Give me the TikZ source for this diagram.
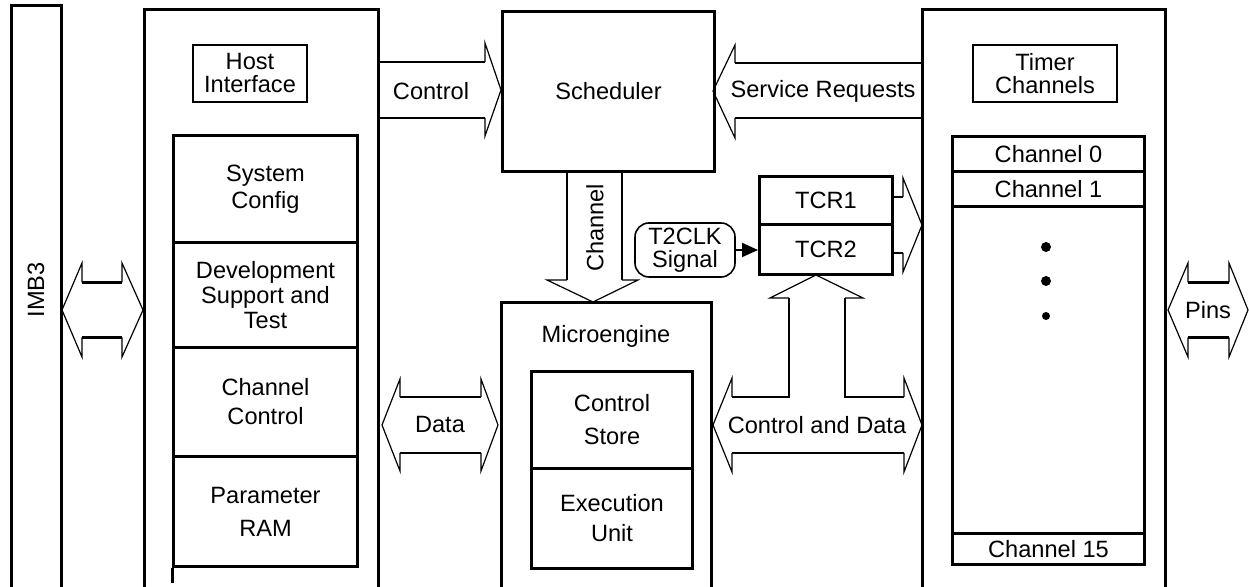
\documentclass[tikz,border=0pt]{standalone}
\usepackage{fontspec}
\setmainfont{Liberation Sans}
\usetikzlibrary{arrows.meta,calc}
\newcommand\dharrow[7]{%
  \draw[shaft] (#2,#5-#6) -- (#3,#5-#6) (#2,#5+#6) -- (#3,#5+#6);
  \draw[head] (#2,#5-#6) -- (#2,#5-#7) -- (#1,#5) -- (#2,#5+#7) -- (#2,#5+#6);
  \draw[head] (#3,#5-#6) -- (#3,#5-#7) -- (#4,#5) -- (#3,#5+#7) -- (#3,#5+#6);
}
\begin{document}
\begin{tikzpicture}[x=0.5pt,y=-0.5pt,
  font=\fontsize{11.8}{13.5}\selectfont,
  thickln/.style={line width=1.5pt},
  shaft/.style={line width=1.4pt},
  head/.style={line width=0.6pt, line join=miter},
  box/.style={draw, line width=1.5pt, inner sep=0pt, align=center, anchor=north west},
  lbl/.style={inner sep=0pt, align=center},
  bs/.style={font=\fontsize{11.8}{#1}\selectfont},
]
\useasboundingbox (0,0) rectangle (1249,587);

% IMB3 bus
\draw[thickln] (11,590) -- (11,6) -- (61,6) -- (61,590);
\node[lbl, rotate=90] (imb) at (36,290) {IMB3};

% Host side
\draw[thickln] (144,590) -- (144,10) -- (378,10) -- (378,590);
\node[box, line width=1pt, minimum width=57pt, minimum height=28.5pt, bs=11.5pt] (hif) at (192,44) {Host\\Interface};
\node[box, minimum width=92pt, minimum height=53.5pt, bs=13.5pt] (sc) at (172,134) {System\\Config};
\node[box, minimum width=92pt, minimum height=52.5pt, bs=12.5pt] (dev) at (172,241) {Development\\Support and\\Test};
\node[box, minimum width=92pt, minimum height=54.5pt, bs=14.5pt] (cc) at (172,346) {Channel\\Control};
\node[box, minimum width=92pt, minimum height=55pt, bs=16.5pt] (pram) at (172,455) {Parameter\\RAM};
\draw[thickln] (pram.south west) -- ++(0,15);

% Scheduler
\node[box, minimum width=106pt, minimum height=80pt] (sched) at (501,10) {Scheduler};

% Microengine
\draw[thickln] (501,590) -- (501,303) -- (711,303) -- (711,590);
\node[lbl] (me) at (606,336) {Microengine};
\node[box, minimum width=80.5pt, minimum height=48.5pt, bs=16.5pt] (cs) at (530,370) {Control\\Store};
\node[box, minimum width=80.5pt, minimum height=50pt, bs=15pt] (eu) at (530,467) {Execution\\Unit};

% TCR
\node[box, minimum width=66.5pt, minimum height=24pt] (tcr1) at (758,175) {TCR1};
\node[box, minimum width=66.5pt, minimum height=25pt] (tcr2) at (758,223) {TCR2};
\node[draw, lbl, rounded corners=7pt, line width=0.8pt, minimum width=50pt, minimum height=27pt, bs=11.5pt] (t2) at (685,250) {T2CLK\\Signal};
\draw[line width=1pt, -{Triangle[length=8pt,width=7pt]}] (t2.east) -- (t2.east -| tcr2.west);

% Timer channels
\draw[thickln] (922,590) -- (922,10) -- (1165,10) -- (1165,590);
\node[box, line width=1pt, minimum width=72pt, minimum height=28.5pt, bs=11.5pt] (tch) at (972,44) {Timer\\Channels};
\node[box, minimum width=96pt, minimum height=17.5pt] (ch0) at (951,135) {Channel 0};
\node[box, minimum width=96pt, minimum height=17.5pt] (ch1) at (951,170) {Channel 1};
\node[box, minimum width=96pt, minimum height=163.5pt] (chm) at (951,205) {};
\node[box, minimum width=96pt, minimum height=15.5pt] (ch15) at (951,532) {Channel 15};
\fill (1046,247) circle (5);
\fill (1046,281) circle (5);
\fill (1046,316) circle (4);

% Control arrow (right)
\draw[shaft] (378,62) -- (485,62) (378,118) -- (485,118);
\draw[head] (485,62) -- (485,43) -- (sched.west |- 0,90) -- (485,136) -- (485,118);
\node[lbl] (lctl) at (431,91) {Control};

% Service Requests arrow (left)
\draw[shaft] (922,63) -- (735,63) (922,118) -- (735,118);
\draw[head] (735,63) -- (735,45) -- (713,91) -- (735,138) -- (735,118);
\node[lbl] (lsr) at (823,91) {Service Requests};

% Channel arrow (down)
\draw[shaft] (567,170) -- (567,280) (622,170) -- (622,280);
\draw[head] (567,280) -- (547,280) -- (593,302) -- (638,280) -- (622,280);
\node[lbl, rotate=90] (lch) at (595,228) {Channel};

% Data arrow
\dharrow{382}{400}{481}{498}{425}{28}{46}
\node[lbl] (ldata) at (440,425) {Data};

% Control and Data arrow with branch to TCR
\draw[shaft] (732,397) -- (789,397) -- (789,298);
\draw[shaft] (845,298) -- (845,397) -- (904,397);
\draw[shaft] (732,453) -- (904,453);
\draw[head] (789,298) -- (770,298) -- (816,275) -- (863,298) -- (845,298);
\draw[head] (732,397) -- (732,378) -- (713,425) -- (732,472) -- (732,453);
\draw[head] (904,397) -- (904,378) -- (922,425) -- (904,472) -- (904,453);
\node[lbl] (lcd) at (817,425) {Control and Data};

% TCR to timer channels arrow
\draw[shaft] (891,197) -- (903,197) (891,253) -- (903,253);
\draw[head] (903,197) -- (903,178) -- (922,225) -- (903,272) -- (903,253);

% IMB3 arrow and Pins arrow
\dharrow{62}{82}{122}{143}{310}{27.5}{47}
\dharrow{1168}{1188}{1229}{1248}{310}{27.5}{47}
\node[lbl] (lpins) at (1208,310) {Pins};
\end{tikzpicture}
\end{document}
